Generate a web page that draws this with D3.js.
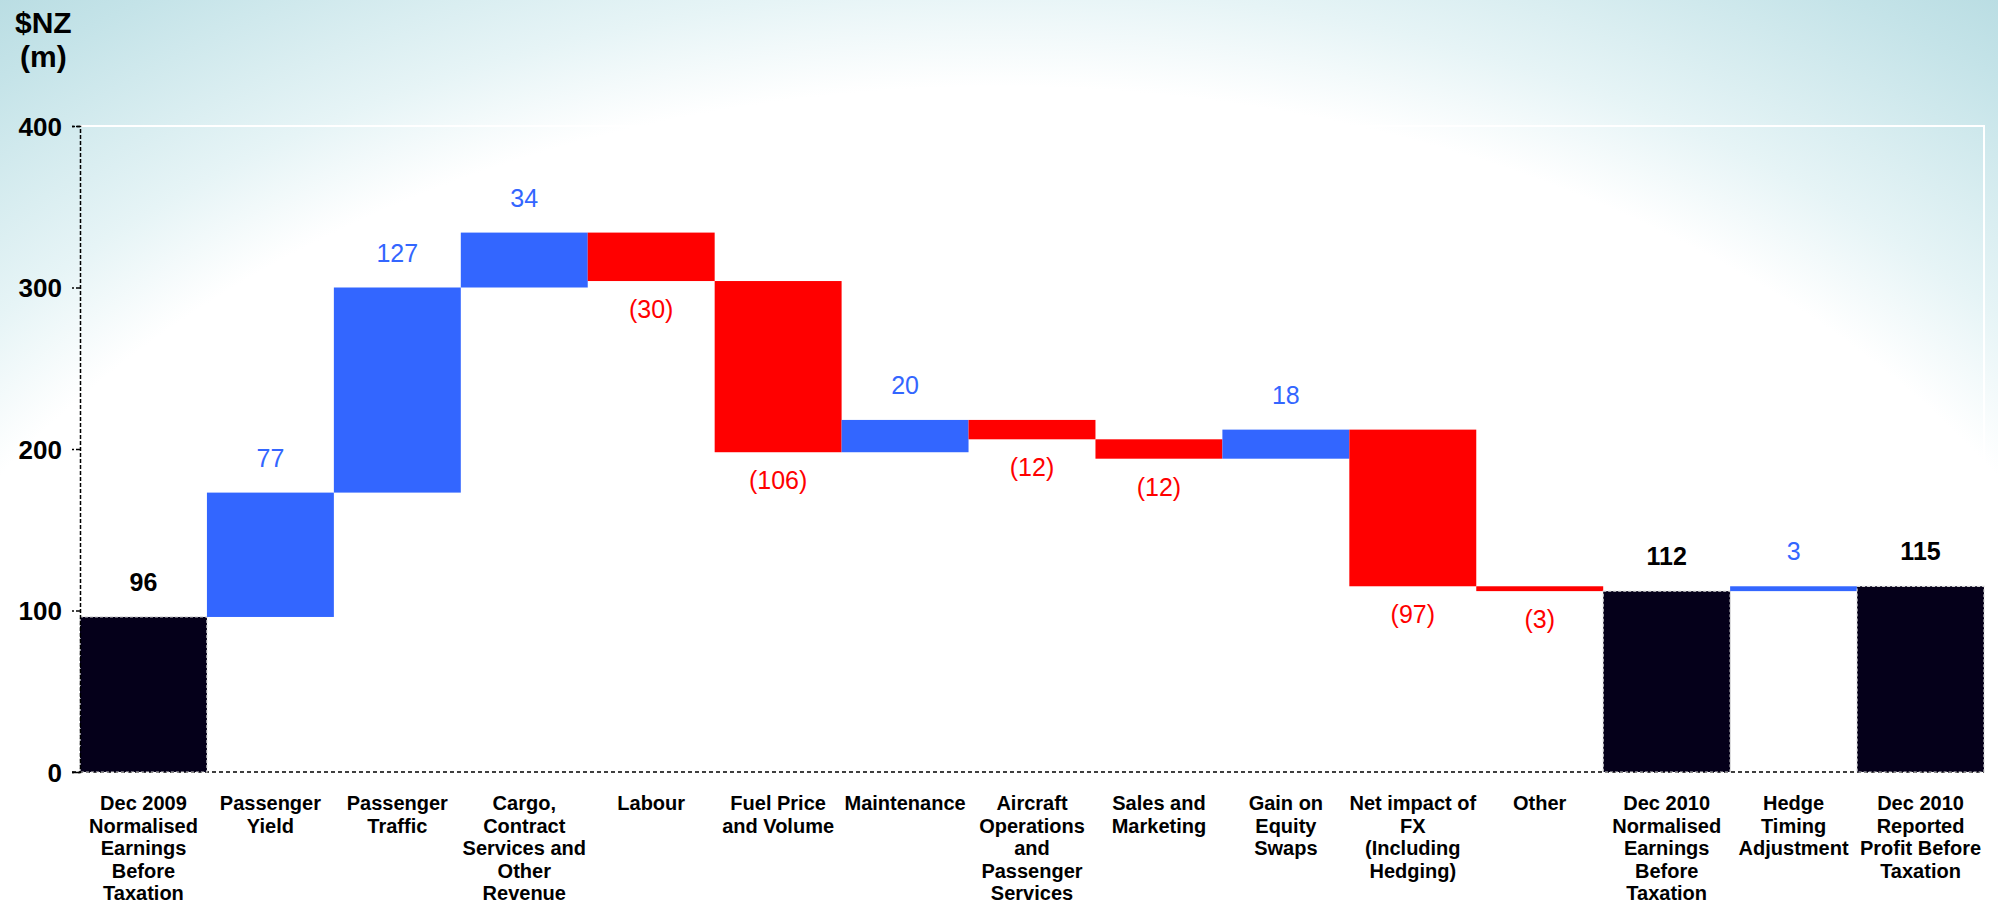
<!DOCTYPE html>
<html>
<head>
<meta charset="utf-8">
<script src="https://cdn.jsdelivr.net/npm/d3@7"></script>
<style>
  body { margin: 0; background: #fff; }
  svg { display: block; font-family: Arial, "Liberation Sans", sans-serif; }
  .cat { font-family: "Liberation Sans Narrow", "Arial Narrow", "Liberation Sans", sans-serif; font-weight: bold; font-size: 20px; }
  .axis text { font-weight: bold; font-size: 26px; fill: #000; }
</style>
</head>
<body>
<div id="chart"></div>
<script>
// category labels, one array of lines per bar
var categories = [
  ["Dec 2009", "Normalised", "Earnings", "Before", "Taxation"],
  ["Passenger", "Yield"],
  ["Passenger", "Traffic"],
  ["Cargo,", "Contract", "Services and", "Other", "Revenue"],
  ["Labour"],
  ["Fuel Price", "and Volume"],
  ["Maintenance"],
  ["Aircraft", "Operations", "and", "Passenger", "Services"],
  ["Sales and", "Marketing"],
  ["Gain on", "Equity", "Swaps"],
  ["Net impact of", "FX", "(Including", "Hedging)"],
  ["Other"],
  ["Dec 2010", "Normalised", "Earnings", "Before", "Taxation"],
  ["Hedge", "Timing", "Adjustment"],
  ["Dec 2010", "Reported", "Profit Before", "Taxation"]
];
var values = [96, 77, 127, 34, -30, -106, 20, -12, -12, 18, -97, -3, 112, 3, 115];
var isTotal = [true, false, false, false, false, false, false, false, false, false, false, false, true, false, true];
var yTicks = [0, 100, 200, 300, 400];

var width = 1998, height = 906;
var colBlue = "#3366ff", colRed = "#ff0000", colTotal = "#05001a";

var svg = d3.select("#chart").append("svg")
  .attr("width", width)
  .attr("height", height);

// background wash
var defs = svg.append("defs");
var grad = defs.append("radialGradient")
  .attr("id", "bg")
  .attr("gradientUnits", "userSpaceOnUse")
  .attr("cx", 0).attr("cy", 0).attr("r", 1)
  .attr("gradientTransform", "translate(999,960) scale(1690,1230)");
grad.append("stop").attr("offset", 0).attr("stop-color", "#ffffff");
grad.append("stop").attr("offset", 0.71).attr("stop-color", "#ffffff");
grad.append("stop").attr("offset", 0.79).attr("stop-color", "#e6f4f6");
grad.append("stop").attr("offset", 0.93).attr("stop-color", "#c4e3e8");
grad.append("stop").attr("offset", 1).attr("stop-color", "#b6dbe1");

svg.append("rect").attr("width", width).attr("height", height).attr("fill", "url(#bg)");

var x = d3.scaleBand()
  .domain(d3.range(values.length))
  .range([80, 1984])
  .padding(0);

var y = d3.scaleLinear()
  .domain([0, 400])
  .range([772, 126]);

// running totals for the waterfall
var bars = [];
var run = 0;
values.forEach(function(v, i) {
  var start, end;
  if (isTotal[i]) { start = 0; end = v; run = v; }
  else { start = run; end = run + v; run = end; }
  bars.push({i: i, v: v, lo: Math.min(start, end), hi: Math.max(start, end), total: isTotal[i]});
});

// white frame top / right
svg.append("path")
  .attr("d", "M" + x.range()[0] + "," + y(400) + "H" + x.range()[1] + "V" + y(0))
  .attr("fill", "none")
  .attr("stroke", "#ffffff")
  .attr("stroke-width", 2);

// zero line
svg.append("line")
  .attr("x1", 72).attr("x2", x.range()[1])
  .attr("y1", y(0)).attr("y2", y(0))
  .attr("stroke", "#000")
  .attr("stroke-width", 1.5)
  .attr("stroke-dasharray", "4,3");

// bars
svg.selectAll("rect.bar")
  .data(bars)
  .enter().append("rect")
  .attr("class", "bar")
  .attr("x", function(d) { return x(d.i); })
  .attr("width", x.bandwidth())
  .attr("y", function(d) { return y(d.hi); })
  .attr("height", function(d) { return y(d.lo) - y(d.hi); })
  .attr("fill", function(d) { return d.total ? colTotal : (d.v >= 0 ? colBlue : colRed); })
  .attr("stroke", function(d) { return d.total ? "#d8d8d8" : "none"; })
  .attr("stroke-width", 1.2)
  .attr("stroke-dasharray", "3,2");

// y axis
var axis = svg.append("g")
  .attr("class", "axis")
  .attr("transform", "translate(80,0)")
  .call(d3.axisLeft(y).tickValues(yTicks).tickSize(8).tickPadding(10));
axis.select(".domain")
  .attr("stroke", "#000")
  .attr("stroke-width", 1.5)
  .attr("stroke-dasharray", "4,2");
axis.selectAll(".tick line")
  .attr("stroke", "#000")
  .attr("stroke-width", 1.5)
  .attr("stroke-dasharray", "4,2");
axis.selectAll(".tick text").attr("dy", "0.36em");

// unit label
svg.append("text").attr("x", 15).attr("y", 33)
  .attr("font-size", 30).attr("font-weight", "bold").text("$NZ");
svg.append("text").attr("x", 20).attr("y", 67)
  .attr("font-size", 30).attr("font-weight", "bold").text("(m)");

// value labels
svg.selectAll("text.val")
  .data(bars)
  .enter().append("text")
  .attr("class", "val")
  .attr("text-anchor", "middle")
  .attr("x", function(d) { return x(d.i) + x.bandwidth() / 2; })
  .attr("y", function(d) { return d.v >= 0 ? y(d.hi) - 26 : y(d.lo) + 37; })
  .attr("font-size", 25)
  .attr("font-weight", function(d) { return d.total ? "bold" : "normal"; })
  .attr("fill", function(d) { return d.total ? "#000" : (d.v >= 0 ? colBlue : colRed); })
  .text(function(d) { return d.v >= 0 ? d.v : "(" + Math.abs(d.v) + ")"; });

// category labels
var cat = svg.selectAll("text.cat")
  .data(categories)
  .enter().append("text")
  .attr("class", "cat")
  .attr("text-anchor", "middle")
  .attr("x", function(d, i) { return x(i) + x.bandwidth() / 2; })
  .attr("y", 810);
cat.selectAll("tspan")
  .data(function(d, i) { return d.map(function(s) { return {s: s, i: i}; }); })
  .enter().append("tspan")
  .attr("x", function(d) { return x(d.i) + x.bandwidth() / 2; })
  .attr("dy", function(d, j) { return j === 0 ? 0 : 22.5; })
  .text(function(d) { return d.s; });
</script>
</body>
</html>
